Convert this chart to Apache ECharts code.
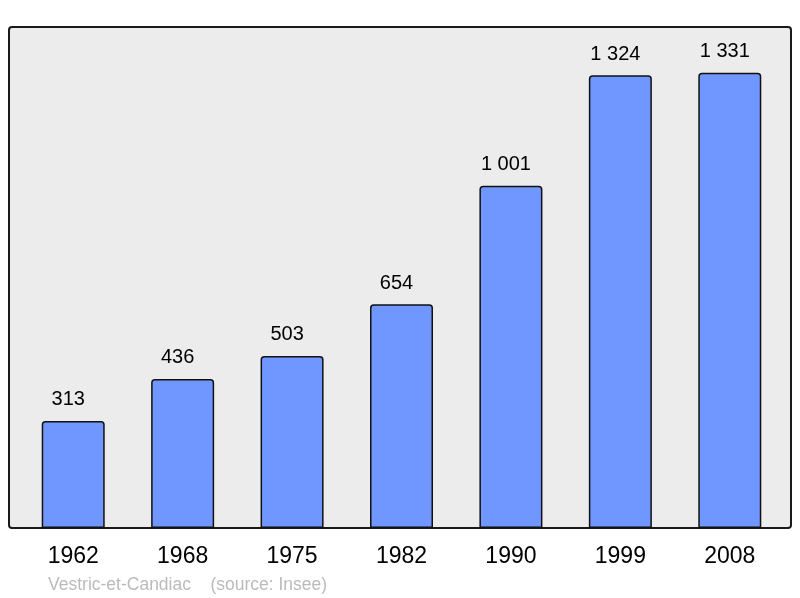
<!DOCTYPE html>
<html>
<head>
<meta charset="utf-8">
<script src="https://cdn.jsdelivr.net/npm/echarts@6/dist/echarts.min.js"></script>
<style>
  html, body { margin: 0; padding: 0; background: #fff; }
  #chart { width: 800px; height: 598px; }
</style>
</head>
<body>
<div id="chart"></div>
<script>
  const years = ['1962', '1968', '1975', '1982', '1990', '1999', '2008'];
  const population = [313, 436, 503, 654, 1001, 1324, 1331];
  const footer = 'Vestric-et-Candiac    (source: Insee)';

  const chart = echarts.init(document.getElementById('chart'));
  // thousands with a space, like "1 331"
  const fmt = (v) => String(v).replace(/\B(?=(\d{3})+(?!\d))/g, ' ');

  const option = {
    animation: false,
    textStyle: { fontFamily: 'Liberation Sans, Arial, sans-serif' },
    graphic: [
      {
        type: 'rect',
        z: -10,
        shape: { x: 9, y: 27, width: 782, height: 501, r: 3 },
        style: { fill: '#ececec', stroke: '#1a1a1a', lineWidth: 2 },
      },
      {
        type: 'text',
        left: 48,
        top: 576,
        style: {
          text: footer,
          fill: '#bbbbbb',
          fontSize: 17.5,
          fontFamily: 'Liberation Sans, Arial, sans-serif',
        },
      },
    ],
    grid: { left: 18.5, width: 766, top: 27, height: 501 },
    xAxis: {
      type: 'category',
      data: years,
      axisLine: { show: false },
      axisTick: { show: false },
      axisLabel: { color: '#000', fontSize: 23, margin: 17 },
    },
    yAxis: {
      type: 'value',
      min: 0,
      max: 1465,
      show: false,
      splitLine: { show: false },
    },
    series: [
      {
        type: 'bar',
        data: population,
        barWidth: 63,
        itemStyle: {
          color: '#7097ff',
          borderColor: '#111',
          borderWidth: 1.5,
          borderRadius: [3, 3, 0, 0],
        },
        label: {
          show: true,
          position: 'top',
          distance: 11,
          offset: [-5, 0],
          color: '#000',
          fontSize: 20,
          formatter: (p) => fmt(p.value),
        },
      },
    ],
  };
  chart.setOption(option);
</script>
</body>
</html>
